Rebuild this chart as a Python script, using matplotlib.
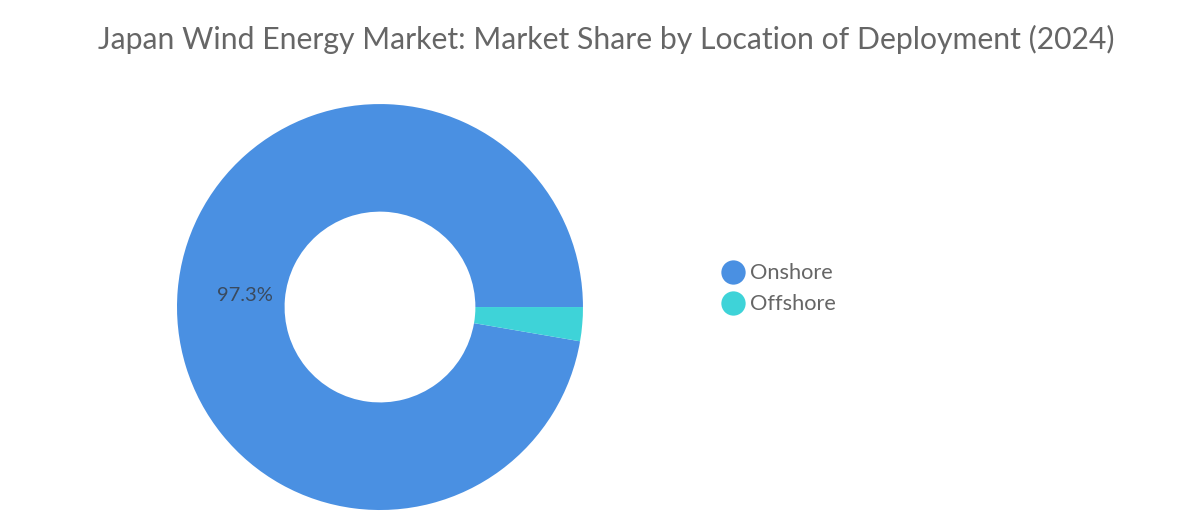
import matplotlib.pyplot as plt
from matplotlib.lines import Line2D

# market share by location of deployment, 2024
labels = ["Onshore", "Offshore"]
shares = [97.3, 2.7]
colors = ["#4A90E2", "#3ED3D8"]

plt.rcParams['font.family'] = ['Lato', 'DejaVu Sans']

fig = plt.figure(figsize=(12, 5.28), dpi=100)
fig.text(0.505, 0.925, "Japan Wind Energy Market: Market Share by Location of Deployment (2024)",
         ha="center", va="center", fontsize=21.7, color="#666666")

ax = fig.add_axes([0.1475, 0.034, 0.3383, 0.769])
wedges, texts, autotexts = ax.pie(
    shares, colors=colors, startangle=0, counterclock=True, radius=1,
    wedgeprops=dict(width=0.53, edgecolor="none"),
    autopct=lambda p: f"{p:.1f}%" if p > 5 else "",
    pctdistance=0.67, textprops=dict(color="#3a4a5e", fontsize=14.5))
ax.set_xlim(-1, 1)
ax.set_ylim(-1, 1)
ax.set_aspect("equal")
ax.axis("off")

handles = [Line2D([0], [0], marker="o", linestyle="none", markersize=17.5,
                  markerfacecolor=c, markeredgecolor="none") for c in colors]
fig.legend(handles, labels, loc="center left", bbox_to_anchor=(0.5945, 0.453),
           frameon=False, fontsize=15.7, labelcolor="#666666", handlelength=1.0,
           handletextpad=0.28, labelspacing=0.5, borderaxespad=0)

fig.savefig("out.png", dpi=100)
